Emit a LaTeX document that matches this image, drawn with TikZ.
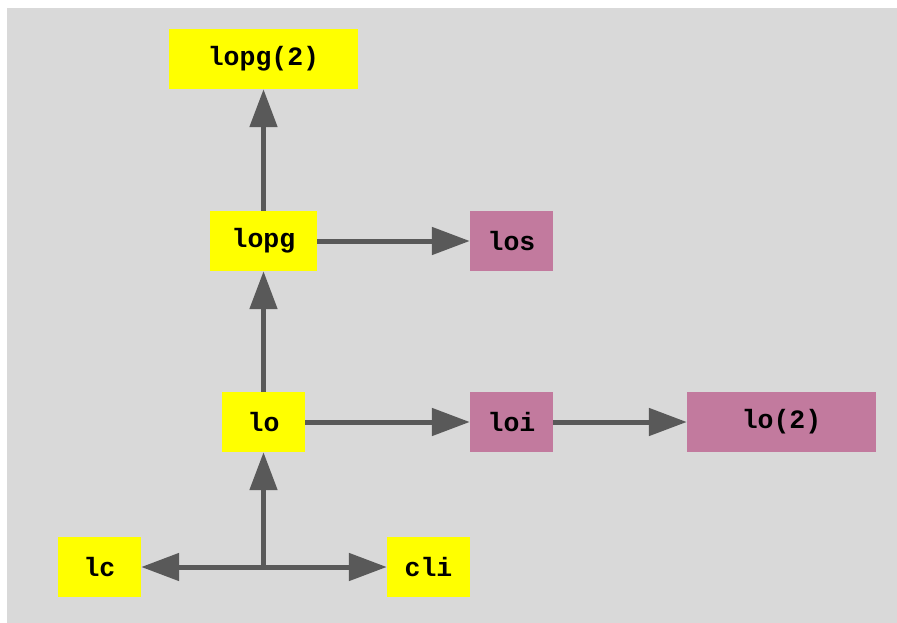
\documentclass[tikz,border=0pt]{standalone}
\usepackage{fontspec}
\setmonofont{Liberation Mono}
\usetikzlibrary{arrows.meta}
\definecolor{bggray}{HTML}{D9D9D9}
\definecolor{edgegray}{HTML}{595959}
\definecolor{mauve}{HTML}{C27A9E}
\definecolor{brightyellow}{RGB}{255,255,0}
\tikzset{
  box/.style={inner sep=0pt, minimum height=60pt, font=\fontsize{26.5}{30}\selectfont\ttfamily\bfseries},
  yellowbox/.style={box, fill=brightyellow},
  mauvebox/.style={box, fill=mauve},
  flow/.style={draw=edgegray, line width=5pt, -{Triangle[length=38pt,width=27pt]}}
}
\begin{document}
\begin{tikzpicture}[x=1pt, y=-1pt]
  \useasboundingbox (0,0) rectangle (897,623);
  \fill[bggray] (7,8) rectangle (897,623);
  % nodes
  \node[yellowbox, minimum width=189pt] (lopgtwo) at (263.5,59) {lopg(2)};
  \node[yellowbox, minimum width=107pt] (lopg) at (263.5,241) {lopg};
  \node[mauvebox, minimum width=83pt] (los) at (511.5,241) {los};
  \node[yellowbox, minimum width=83pt] (lo) at (263.5,422) {lo};
  \node[mauvebox, minimum width=83pt] (loi) at (511.5,422) {loi};
  \node[mauvebox, minimum width=189pt] (lotwo) at (781.5,422) {lo(2)};
  \node[yellowbox, minimum width=83pt] (lc) at (99.5,567) {lc};
  \node[yellowbox, minimum width=83pt] (cli) at (428.5,567) {cli};
  \coordinate (fork) at (263.5,567);
  % connectors
  \draw[flow] (lopg) -- (lopgtwo);
  \draw[flow] (lopg) -- (los);
  \draw[flow] (lo) -- (lopg);
  \draw[flow] (lo) -- (loi);
  \draw[flow] (loi) -- (lotwo);
  \draw[flow] (fork) -- (lo);
  \draw[flow] (fork) -- (lc);
  \draw[flow] (fork) -- (cli);
\end{tikzpicture}
\end{document}
